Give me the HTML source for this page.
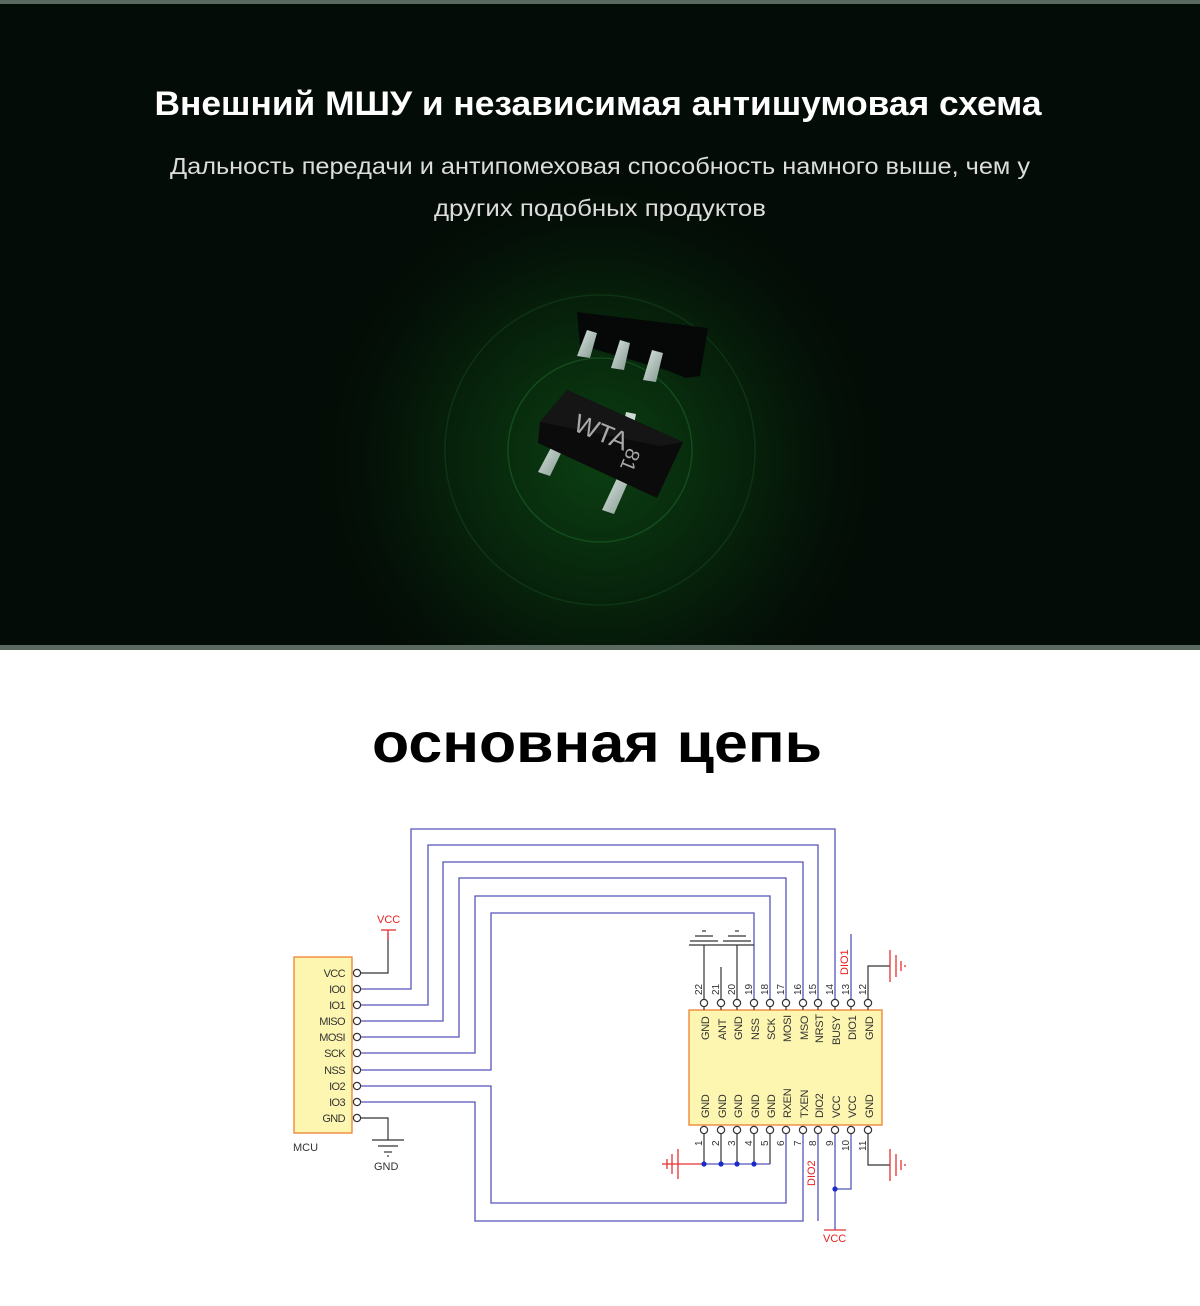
<!DOCTYPE html>
<html><head><meta charset="utf-8">
<style>
html,body{margin:0;padding:0;background:#fff;}
svg{display:block;}
text{font-family:"Liberation Sans","DejaVu Sans",sans-serif;}
</style></head>
<body>
<svg width="1200" height="1306" viewBox="0 0 1200 1306" xmlns="http://www.w3.org/2000/svg">
<defs>
<radialGradient id="glow" cx="600" cy="460" r="300" gradientUnits="userSpaceOnUse">
<stop offset="0" stop-color="#0b3f12"/>
<stop offset="0.35" stop-color="#082a0d"/>
<stop offset="0.7" stop-color="#051508"/>
<stop offset="1" stop-color="#030c06" stop-opacity="0"/>
</radialGradient>
<linearGradient id="lead" x1="0" y1="0" x2="1" y2="1">
<stop offset="0" stop-color="#dfe8e4"/><stop offset="1" stop-color="#7f958c"/>
</linearGradient>
</defs>
<rect x="0" y="0" width="1200" height="648" fill="#030c06"/>
<rect x="0" y="0" width="1200" height="648" fill="url(#glow)"/>
<rect x="0" y="0" width="1200" height="4" fill="#5a6a60"/>
<rect x="0" y="645" width="1200" height="5" fill="#5a6a60"/>
<circle cx="600" cy="450" r="155" fill="none" stroke="#1c5a26" stroke-opacity="0.35" stroke-width="1.5"/>
<circle cx="600" cy="450" r="92" fill="none" stroke="#22702e" stroke-opacity="0.45" stroke-width="1.5"/>

<text x="598" y="115" fill="#fff" font-size="34" font-weight="bold" text-anchor="middle" textLength="887" lengthAdjust="spacingAndGlyphs">Внешний МШУ и независимая антишумовая схема</text>
<text x="600" y="174" fill="#dcdcdc" font-size="23" text-anchor="middle" textLength="860" lengthAdjust="spacingAndGlyphs">Дальность передачи и антипомеховая способность намного выше, чем у</text>
<text x="600" y="216" fill="#dcdcdc" font-size="23" text-anchor="middle" textLength="332" lengthAdjust="spacingAndGlyphs">других подобных продуктов</text>

<polygon points="577,312 708,328 700,376 686,378 666,370 580,345" fill="#050806"/>
<polygon points="587,330 597,333 590,358 577,356" fill="url(#lead)"/>
<polygon points="620,340 630,343 624,370 611,368" fill="url(#lead)"/>
<polygon points="652,350 663,353 656,382 643,380" fill="url(#lead)"/>
<polygon points="626,412 636,414 634,424 624,422" fill="#cfdad5"/>
<polygon points="555,440 565,445 550,476 538,472" fill="url(#lead)"/>
<polygon points="618,476 629,480 614,514 602,510" fill="url(#lead)"/>
<polygon points="540,422 567,390 683,442 657,498 538,443" fill="#0b0b0b"/>
<polygon points="540,422 567,390 683,442 660,446" fill="#151515"/>
<text x="0" y="0" fill="#a8a8a8" font-size="26" transform="translate(572,430) rotate(22)">WTA</text>
<text x="0" y="0" fill="#a8a8a8" font-size="20" transform="translate(628,447) rotate(112)">81</text>

<text x="597" y="762" fill="#000" font-size="56" font-weight="bold" text-anchor="middle" textLength="450" lengthAdjust="spacingAndGlyphs">основная цепь</text>

<g fill="none" stroke="#5555bb" stroke-width="1.3">
<polyline points="361,989 411,989 411,829 835,829 835,1002"/>
<polyline points="361,1005 428,1005 428,845 818,845 818,1002"/>
<polyline points="361,1021 443,1021 443,862 803,862 803,1002"/>
<polyline points="361,1037 459,1037 459,878 786,878 786,1002"/>
<polyline points="361,1053 475,1053 475,896 770,896 770,1002"/>
<polyline points="361,1070 491,1070 491,913 754,913 754,1002"/>
<polyline points="361,1086 491,1086 491,1203 786,1203 786,1134"/>
<polyline points="361,1102 475,1102 475,1221 803,1221 803,1134"/>
<line x1="818" y1="1134" x2="818" y2="1221"/>
<line x1="851" y1="1002" x2="851" y2="934"/>
<polyline points="851,1134 851,1189 835,1189"/>
<line x1="835" y1="1134" x2="835" y2="1230"/>
<line x1="704" y1="1164" x2="770" y2="1164"/>
</g>
<g fill="none" stroke="#333" stroke-width="1.2">
<polyline points="361,973 388,973 388,933"/>
<polyline points="361,1118 388,1118 388,1140"/>
<line x1="689" y1="945" x2="754" y2="945"/>
<line x1="704" y1="945" x2="704" y2="1002"/>
<line x1="737" y1="945" x2="737" y2="1002"/>
<line x1="721" y1="967" x2="721" y2="1002"/>
<polyline points="868,1002 868,966 890,966"/>
<polyline points="868,1134 868,1165 890,1165"/>
<line x1="704" y1="1134" x2="704" y2="1164"/>
<line x1="721" y1="1134" x2="721" y2="1164"/>
<line x1="737" y1="1134" x2="737" y2="1164"/>
<line x1="754" y1="1134" x2="754" y2="1164"/>
<line x1="770" y1="1134" x2="770" y2="1164"/>
<line x1="690" y1="941" x2="718" y2="941"/><line x1="695" y1="936" x2="713" y2="936"/><line x1="702" y1="931" x2="706" y2="931"/>
<line x1="723" y1="941" x2="751" y2="941"/><line x1="728" y1="936" x2="746" y2="936"/><line x1="735" y1="931" x2="739" y2="931"/>
<line x1="372" y1="1140" x2="404" y2="1140"/><line x1="378" y1="1146" x2="398" y2="1146"/><line x1="384" y1="1152" x2="392" y2="1152"/><line x1="387" y1="1156" x2="389" y2="1156"/>
</g>
<g fill="none" stroke="#e83030" stroke-width="1.3">
<line x1="664" y1="1164" x2="704" y2="1164"/>
<line x1="678" y1="1149" x2="678" y2="1179"/><line x1="672" y1="1154" x2="672" y2="1174"/><line x1="667" y1="1159" x2="667" y2="1169"/><line x1="663" y1="1163" x2="663" y2="1165"/>
<line x1="890" y1="950" x2="890" y2="982"/><line x1="896" y1="955" x2="896" y2="977"/><line x1="901" y1="961" x2="901" y2="971"/><line x1="905" y1="965" x2="905" y2="967"/>
<line x1="890" y1="1149" x2="890" y2="1181"/><line x1="896" y1="1154" x2="896" y2="1176"/><line x1="901" y1="1160" x2="901" y2="1170"/><line x1="905" y1="1164" x2="905" y2="1166"/>
<line x1="381" y1="930" x2="396" y2="930"/><line x1="388" y1="930" x2="388" y2="940"/>
<line x1="824" y1="1230" x2="846" y2="1230"/>
</g>
<g fill="#1a2acc">
<circle cx="704" cy="1164" r="2.6"/><circle cx="721" cy="1164" r="2.6"/><circle cx="737" cy="1164" r="2.6"/><circle cx="754" cy="1164" r="2.6"/><circle cx="835" cy="1189" r="2.6"/>
</g>
<g fill="#e82020" font-size="11">
<text x="377" y="923">VCC</text>
<text x="823" y="1242">VCC</text>
<text transform="translate(848,975) rotate(-90)">DIO1</text>
<text transform="translate(815,1186) rotate(-90)">DIO2</text>
</g>
<rect x="294" y="957" width="58" height="176" fill="#fdf6b0" stroke="#ee8030" stroke-width="1.3"/>
<g font-size="11" fill="#333" text-anchor="end" letter-spacing="-0.6">
<text x="345" y="977">VCC</text><text x="345" y="993">IO0</text><text x="345" y="1009">IO1</text><text x="345" y="1025">MISO</text><text x="345" y="1041">MOSI</text><text x="345" y="1057">SCK</text><text x="345" y="1074">NSS</text><text x="345" y="1090">IO2</text><text x="345" y="1106">IO3</text><text x="345" y="1122">GND</text>
</g>
<text x="293" y="1151" font-size="11" fill="#333">MCU</text>
<text x="374" y="1170" font-size="11" fill="#333">GND</text>
<g fill="#fff" stroke="#333" stroke-width="1.2">
<circle cx="357" cy="973" r="3.6"/><circle cx="357" cy="989" r="3.6"/><circle cx="357" cy="1005" r="3.6"/><circle cx="357" cy="1021" r="3.6"/><circle cx="357" cy="1037" r="3.6"/><circle cx="357" cy="1053" r="3.6"/><circle cx="357" cy="1070" r="3.6"/><circle cx="357" cy="1086" r="3.6"/><circle cx="357" cy="1102" r="3.6"/><circle cx="357" cy="1118" r="3.6"/>
</g>
<rect x="689" y="1010" width="193" height="115" fill="#fdf6b0" stroke="#ee8030" stroke-width="1.3"/>
<g stroke="#333" stroke-width="1.2">
<line x1="704" y1="1006" x2="704" y2="1010"/><line x1="721" y1="1006" x2="721" y2="1010"/><line x1="737" y1="1006" x2="737" y2="1010"/><line x1="754" y1="1006" x2="754" y2="1010"/><line x1="770" y1="1006" x2="770" y2="1010"/><line x1="786" y1="1006" x2="786" y2="1010"/><line x1="803" y1="1006" x2="803" y2="1010"/><line x1="818" y1="1006" x2="818" y2="1010"/><line x1="835" y1="1006" x2="835" y2="1010"/><line x1="851" y1="1006" x2="851" y2="1010"/><line x1="868" y1="1006" x2="868" y2="1010"/>
</g>
<g fill="#fff" stroke="#333" stroke-width="1.2">
<circle cx="704" cy="1003" r="3.6"/><circle cx="721" cy="1003" r="3.6"/><circle cx="737" cy="1003" r="3.6"/><circle cx="754" cy="1003" r="3.6"/><circle cx="770" cy="1003" r="3.6"/><circle cx="786" cy="1003" r="3.6"/><circle cx="803" cy="1003" r="3.6"/><circle cx="818" cy="1003" r="3.6"/><circle cx="835" cy="1003" r="3.6"/><circle cx="851" cy="1003" r="3.6"/><circle cx="868" cy="1003" r="3.6"/>
<circle cx="704" cy="1130" r="3.6"/><circle cx="721" cy="1130" r="3.6"/><circle cx="737" cy="1130" r="3.6"/><circle cx="754" cy="1130" r="3.6"/><circle cx="770" cy="1130" r="3.6"/><circle cx="786" cy="1130" r="3.6"/><circle cx="803" cy="1130" r="3.6"/><circle cx="818" cy="1130" r="3.6"/><circle cx="835" cy="1130" r="3.6"/><circle cx="851" cy="1130" r="3.6"/><circle cx="868" cy="1130" r="3.6"/>
</g>
<g font-size="11" fill="#333" letter-spacing="-0.3">
<text transform="translate(709,1040) rotate(-90)">GND</text>
<text transform="translate(726,1040) rotate(-90)">ANT</text>
<text transform="translate(742,1040) rotate(-90)">GND</text>
<text transform="translate(759,1040) rotate(-90)">NSS</text>
<text transform="translate(775,1040) rotate(-90)">SCK</text>
<text transform="translate(791,1042) rotate(-90)">MOSI</text>
<text transform="translate(808,1040) rotate(-90)">MSO</text>
<text transform="translate(823,1043) rotate(-90)">NRST</text>
<text transform="translate(840,1045) rotate(-90)">BUSY</text>
<text transform="translate(856,1040) rotate(-90)">DIO1</text>
<text transform="translate(873,1040) rotate(-90)">GND</text>
<text transform="translate(709,1118) rotate(-90)">GND</text>
<text transform="translate(726,1118) rotate(-90)">GND</text>
<text transform="translate(742,1118) rotate(-90)">GND</text>
<text transform="translate(759,1118) rotate(-90)">GND</text>
<text transform="translate(775,1118) rotate(-90)">GND</text>
<text transform="translate(791,1118) rotate(-90)">RXEN</text>
<text transform="translate(808,1118) rotate(-90)">TXEN</text>
<text transform="translate(823,1118) rotate(-90)">DIO2</text>
<text transform="translate(840,1118) rotate(-90)">VCC</text>
<text transform="translate(856,1118) rotate(-90)">VCC</text>
<text transform="translate(873,1118) rotate(-90)">GND</text>
</g>
<g font-size="10" fill="#333">
<text transform="translate(702,995) rotate(-90)">22</text>
<text transform="translate(719,995) rotate(-90)">21</text>
<text transform="translate(735,995) rotate(-90)">20</text>
<text transform="translate(752,995) rotate(-90)">19</text>
<text transform="translate(768,995) rotate(-90)">18</text>
<text transform="translate(784,995) rotate(-90)">17</text>
<text transform="translate(801,995) rotate(-90)">16</text>
<text transform="translate(816,995) rotate(-90)">15</text>
<text transform="translate(833,995) rotate(-90)">14</text>
<text transform="translate(849,995) rotate(-90)">13</text>
<text transform="translate(866,995) rotate(-90)">12</text>
<text transform="translate(702,1146) rotate(-90)">1</text>
<text transform="translate(719,1146) rotate(-90)">2</text>
<text transform="translate(735,1146) rotate(-90)">3</text>
<text transform="translate(752,1146) rotate(-90)">4</text>
<text transform="translate(768,1146) rotate(-90)">5</text>
<text transform="translate(784,1146) rotate(-90)">6</text>
<text transform="translate(801,1146) rotate(-90)">7</text>
<text transform="translate(816,1146) rotate(-90)">8</text>
<text transform="translate(833,1146) rotate(-90)">9</text>
<text transform="translate(849,1151) rotate(-90)">10</text>
<text transform="translate(866,1151) rotate(-90)">11</text>
</g>
</svg>
</body></html>
